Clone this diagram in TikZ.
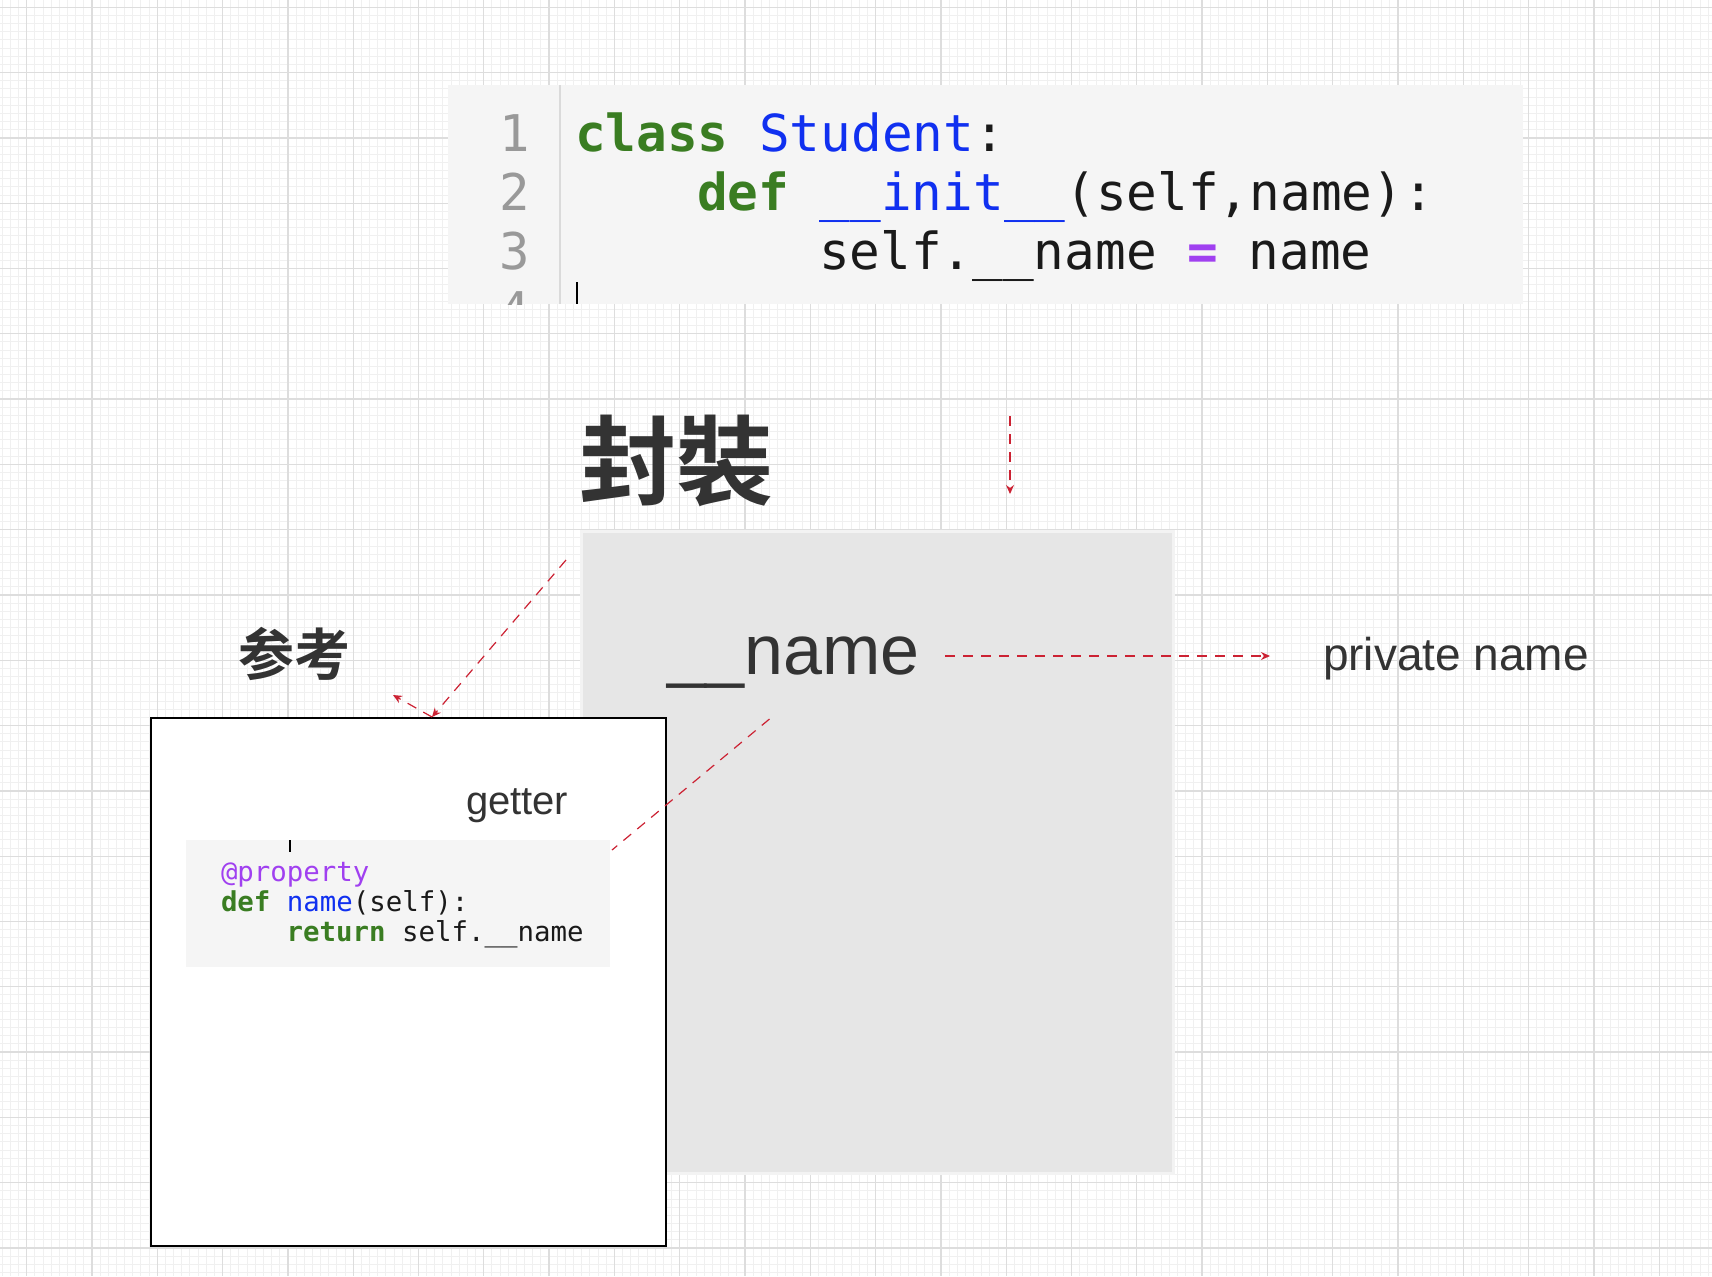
\documentclass[tikz,border=0pt]{standalone}
\usepackage{fontspec}
\setmainfont{Liberation Sans}
\newfontfamily\codefont{DejaVu Sans Mono}
\newfontfamily\cjkbold{Noto Sans CJK SC Bold}
\usetikzlibrary{arrows.meta}
\definecolor{gmajor}{HTML}{DDDDDD}
\definecolor{gminor}{HTML}{F0F0F0}
\definecolor{codebg}{HTML}{F5F5F5}
\definecolor{sepgray}{HTML}{DADADA}
\definecolor{kwgreen}{HTML}{3A7D22}
\definecolor{pyblue}{HTML}{1030F0}
\definecolor{pypurple}{HTML}{A040F0}
\definecolor{txtdark}{HTML}{333333}
\definecolor{codeblack}{HTML}{1A1A1A}
\definecolor{linenum}{HTML}{999999}
\definecolor{boxgray}{HTML}{E6E6E6}
\definecolor{boxedge}{HTML}{F3F3F3}
\definecolor{arrowred}{HTML}{CC2233}
\newcommand\pykw[1]{{\bfseries\color{kwgreen}#1}}
\newcommand\pyfn[1]{{\color{pyblue}#1}}
\newcommand\pyop[1]{{\bfseries\color{pypurple}#1}}
\begin{document}
\begin{tikzpicture}[x=0.5pt,y=-0.5pt,
  txt/.style={inner sep=0pt, outer sep=0pt, anchor=base west},
  codeA/.style={txt, font=\codefont\fontsize{25.5}{30}\selectfont, text=codeblack},
  lnum/.style={inner sep=0pt, outer sep=0pt, anchor=base east, font=\codefont\fontsize{25.3}{30}\selectfont, text=linenum},
  codeB/.style={txt, font=\codefont\fontsize{13.7}{16}\selectfont, text=codeblack},
  label/.style={txt, text=txtdark},
  cjklabel/.style={inner sep=0pt, outer sep=0pt, text=txtdark},
  link/.style={draw=arrowred, line width=0.6pt, dash pattern=on 5pt off 4pt},
  tip/.style={-{Stealth[length=4.5pt,width=4pt]}},
  cursor/.style={draw=black, line width=1pt},
]
\useasboundingbox (0,0) rectangle (1712,1276);
% background grid
\begin{scope}
\clip (0,0) rectangle (1712,1276);
\fill[white] (0,0) rectangle (1712,1276);
\foreach \k in {-4,...,211} \draw[gminor, line width=0.5pt] ({26.7+\k*8.1625},0) -- ({26.7+\k*8.1625},1276);
\foreach \k in {-1,...,157} \draw[gminor, line width=0.5pt] (0,{7.3+\k*8.1625}) -- (1712,{7.3+\k*8.1625});
\foreach \k in {0,...,26} \draw[gmajor, line width=0.65pt] ({26.7+\k*65.3},0) -- ({26.7+\k*65.3},1276);
\foreach \k in {0,...,19} \draw[gmajor, line width=0.65pt] (0,{7.3+\k*65.3}) -- (1712,{7.3+\k*65.3});
\end{scope}

% code block 1
\fill[codebg] (448,85) rectangle (1523,304);
\draw[sepgray, line width=1pt] (559.5,85) -- (559.5,304);
\begin{scope}
\clip (448,85) rectangle (1523,304);
\node[lnum] (n1) at (530,151) {1};
\node[lnum] (n2) at (530,210) {2};
\node[lnum] (n3) at (530,269.3) {3};
\node[lnum] (n4) at (530,328.3) {4};
\draw[cursor] (577,282) -- (577,304);
\end{scope}
\node[codeA] (c1) at (575,151) {\pykw{class} \pyfn{Student}:};
\node[codeA] (c2) at (697,210) {\pykw{def} \pyfn{\_\_init\_\_}(self,name):};
\node[codeA] (c3) at (819,269.3) {self.\_\_name \pyop{=} name};

% title
\node[cjklabel, font=\cjkbold\fontsize{48.5}{50}\selectfont] (fz) at (676.5,461) {封裝};

% big gray box
\draw[fill=boxgray, draw=boxedge, line width=1.5pt] (581,531) rectangle (1173,1173);
\node[label, font=\fontsize{35}{40}\selectfont] (pn) at (667,674) {\_\_name};
\node[label, font=\fontsize{23}{26}\selectfont] (pl) at (1323,670) {private name};

% reference label
\node[cjklabel, font=\cjkbold\fontsize{28}{30}\selectfont] (ck) at (294,653.5) {参考};

% white box
\draw[fill=white, draw=black, line width=0.75pt] (151,718) rectangle (666,1246);
\node[label, font=\fontsize{20}{24}\selectfont] (gt) at (466,814) {getter};
\fill[codebg] (186,840) rectangle (610,967);
\draw[cursor] (290,840) -- (290,852);
\node[codeB] (g1) at (221,881) {{\color{pypurple}@property}};
\node[codeB] (g2) at (221,911) {\pykw{def} \pyfn{name}(self):};
\node[codeB] (g3) at (286.6,941) {\pykw{return} self.\_\_name};

% connectors
\coordinate (v1) at (1010,416);
\coordinate (v2) at (1010,494);
\coordinate (h1) at (945,656);
\coordinate (h2) at (1270,656);
\coordinate (d1) at (566,560);
\coordinate (d2) at (432,717);
\coordinate (d3) at (393,695);
\coordinate (e1) at (769.5,719);
\coordinate (e2) at (612,850);
\draw[link, tip] (v1) -- (v2);
\draw[link, tip] (h1) -- (h2);
\draw[link, tip] (d1) -- (d2);
\draw[link, tip] (d2) -- (d3);
\draw[link] (e1) -- (e2);
\end{tikzpicture}
\end{document}
